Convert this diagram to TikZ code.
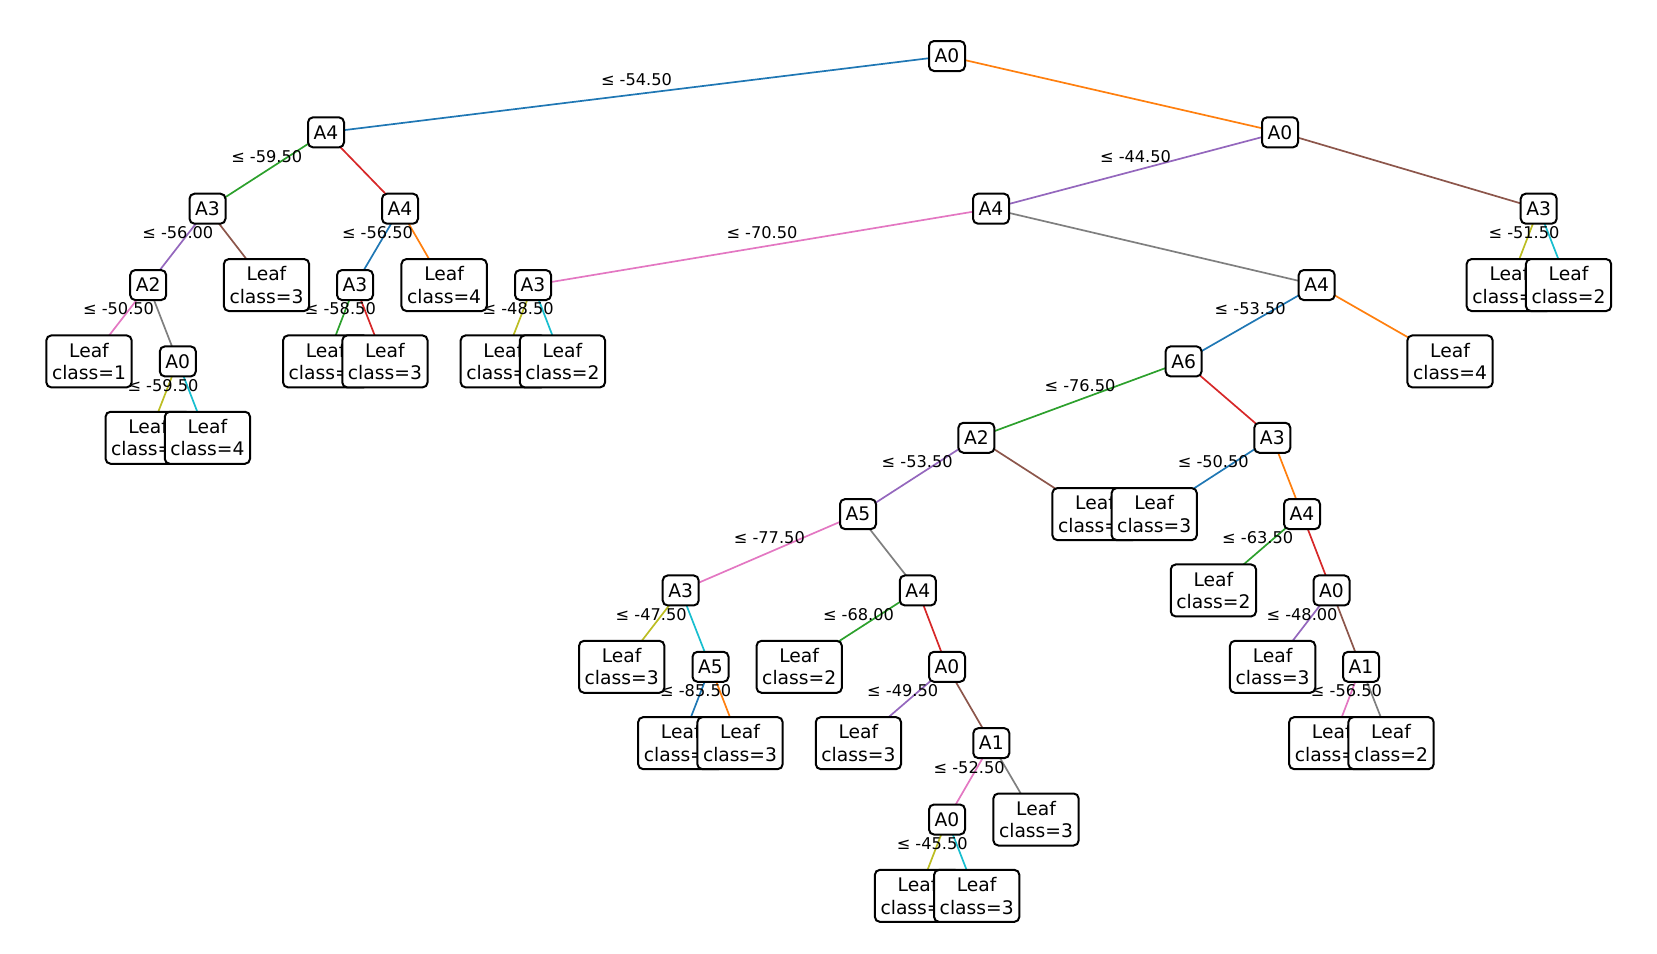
\documentclass[tikz,border=0pt]{standalone}
\usepackage{fontspec}
\setmainfont{DejaVu Sans}
\usetikzlibrary{calc}
\pgfdeclarelayer{edges}
\pgfdeclarelayer{labels}
\pgfsetlayers{edges,labels,main}
% tab10 palette
\definecolor{tblue}{HTML}{1F77B4}
\definecolor{torange}{HTML}{FF7F0E}
\definecolor{tgreen}{HTML}{2CA02C}
\definecolor{tred}{HTML}{D62728}
\definecolor{tpurple}{HTML}{9467BD}
\definecolor{tbrown}{HTML}{8C564B}
\definecolor{tpink}{HTML}{E377C2}
\definecolor{tgray}{HTML}{7F7F7F}
\definecolor{tolive}{HTML}{BCBD22}
\definecolor{tcyan}{HTML}{17BECF}
\newcommand{\nodefont}{\fontsize{18.7pt}{22.4pt}\selectfont}
\newcommand{\condfont}{\fontsize{16.2pt}{19pt}\selectfont}
\tikzset{
  split/.style={draw, line width=2pt, rounded corners=5pt, fill=white,
    minimum width=36pt, minimum height=30pt, inner sep=0pt, font=\nodefont},
  leaf/.style={draw, line width=2pt, rounded corners=5pt, fill=white,
    minimum width=85.3pt, minimum height=52pt, inner sep=0pt, align=center,
    font=\nodefont},
  cond/.style={font=\condfont, anchor=base, inner sep=0pt, yshift=8.3pt},
  edge/.style={line width=1.7pt},
}
\newcommand{\lf}[1]{Leaf\\class=#1}
\begin{document}
\begin{tikzpicture}[x=1pt,y=-1pt]
\useasboundingbox (0,0) rectangle (1657,953);
% ---- nodes, in pre-order ----
\node[split] (n1)  at (947,56)      {A0};
\node[split] (n2)  at (326,132.35)  {A4};
\node[split] (n3)  at (207.5,208.7) {A3};
\node[split] (n4)  at (148.2,285.05) {A2};
\node[leaf]  (n5)  at (89,361.4)    {\lf{1}};
\node[split] (n6)  at (177.8,361.4) {A0};
\node[leaf]  (n7)  at (148.2,437.75) {\lf{2}};
\node[leaf]  (n8)  at (207.4,437.75) {\lf{4}};
\node[leaf]  (n9)  at (266.5,285.05) {\lf{3}};
\node[split] (n10) at (400,208.7)   {A4};
\node[split] (n11) at (355,285.05)  {A3};
\node[leaf]  (n12) at (325.7,361.4) {\lf{1}};
\node[leaf]  (n13) at (384.9,361.4) {\lf{3}};
\node[leaf]  (n14) at (444.1,285.05) {\lf{4}};
\node[split] (n15) at (1280,132.35) {A0};
\node[split] (n16) at (991,208.7)   {A4};
\node[split] (n17) at (533,285.05)  {A3};
\node[leaf]  (n18) at (503.3,361.4) {\lf{3}};
\node[leaf]  (n19) at (562.4,361.4) {\lf{2}};
\node[split] (n20) at (1316.7,285.05) {A4};
\node[split] (n21) at (1183.6,361.4) {A6};
\node[split] (n22) at (976.4,437.75) {A2};
\node[split] (n23) at (858,514.1)   {A5};
\node[split] (n24) at (680.7,590.45) {A3};
\node[leaf]  (n25) at (621.7,666.8) {\lf{3}};
\node[split] (n26) at (710.5,666.8) {A5};
\node[leaf]  (n27) at (680.8,743.15) {\lf{2}};
\node[leaf]  (n28) at (740,743.15)  {\lf{3}};
\node[split] (n29) at (917.8,590.45) {A4};
\node[leaf]  (n30) at (799.2,666.8) {\lf{2}};
\node[split] (n31) at (947,666.8)   {A0};
\node[leaf]  (n32) at (858.4,743.15) {\lf{3}};
\node[split] (n33) at (991.3,743.15) {A1};
\node[split] (n34) at (947,819.5)   {A0};
\node[leaf]  (n35) at (917.5,895.85) {\lf{2}};
\node[leaf]  (n36) at (976.7,895.85) {\lf{3}};
\node[leaf]  (n37) at (1036,819.5)  {\lf{3}};
\node[leaf]  (n38) at (1095,514.1)  {\lf{2}};
\node[split] (n39) at (1272.3,437.75) {A3};
\node[leaf]  (n40) at (1154.2,514.1) {\lf{3}};
\node[split] (n41) at (1302,514.1)  {A4};
\node[leaf]  (n42) at (1213.4,590.45) {\lf{2}};
\node[split] (n43) at (1331.5,590.45) {A0};
\node[leaf]  (n44) at (1272.6,666.8) {\lf{3}};
\node[split] (n45) at (1361,666.8)  {A1};
\node[leaf]  (n46) at (1331.8,743.15) {\lf{3}};
\node[leaf]  (n47) at (1391,743.15) {\lf{2}};
\node[leaf]  (n48) at (1450,361.4)  {\lf{4}};
\node[split] (n49) at (1538.7,208.7) {A3};
\node[leaf]  (n50) at (1509.3,285.05) {\lf{1}};
\node[leaf]  (n51) at (1568.5,285.05) {\lf{2}};
% ---- connectors ----
\begin{pgfonlayer}{edges}
\foreach \p/\c/\col in {
  n1/n2/tblue, n1/n15/torange,
  n2/n3/tgreen, n2/n10/tred,
  n3/n4/tpurple, n3/n9/tbrown,
  n4/n5/tpink, n4/n6/tgray,
  n6/n7/tolive, n6/n8/tcyan,
  n10/n11/tblue, n10/n14/torange,
  n11/n12/tgreen, n11/n13/tred,
  n15/n16/tpurple, n15/n49/tbrown,
  n16/n17/tpink, n16/n20/tgray,
  n17/n18/tolive, n17/n19/tcyan,
  n20/n21/tblue, n20/n48/torange,
  n21/n22/tgreen, n21/n39/tred,
  n22/n23/tpurple, n22/n38/tbrown,
  n23/n24/tpink, n23/n29/tgray,
  n24/n25/tolive, n24/n26/tcyan,
  n26/n27/tblue, n26/n28/torange,
  n29/n30/tgreen, n29/n31/tred,
  n31/n32/tpurple, n31/n33/tbrown,
  n33/n34/tpink, n33/n37/tgray,
  n34/n35/tolive, n34/n36/tcyan,
  n39/n40/tblue, n39/n41/torange,
  n41/n42/tgreen, n41/n43/tred,
  n43/n44/tpurple, n43/n45/tbrown,
  n45/n46/tpink, n45/n47/tgray,
  n49/n50/tolive, n49/n51/tcyan}
  \draw[edge, \col] (\p.center) -- (\c.center);
\end{pgfonlayer}
% ---- split thresholds on the left branches ----
\begin{pgfonlayer}{labels}
\foreach \p/\c/\t in {
  n1/n2/-54.50, n2/n3/-59.50, n3/n4/-56.00, n4/n5/-50.50, n6/n7/-59.50,
  n10/n11/-56.50, n11/n12/-58.50, n15/n16/-44.50, n16/n17/-70.50,
  n17/n18/-48.50, n20/n21/-53.50, n21/n22/-76.50, n22/n23/-53.50,
  n23/n24/-77.50, n24/n25/-47.50, n26/n27/-85.50, n29/n30/-68.00,
  n31/n32/-49.50, n33/n34/-52.50, n34/n35/-45.50, n39/n40/-50.50,
  n41/n42/-63.50, n43/n44/-48.00, n45/n46/-56.50, n49/n50/-51.50}
  \path (\p.center) -- (\c.center) node[midway, cond] {≤ \t};
\end{pgfonlayer}
\end{tikzpicture}
\end{document}
